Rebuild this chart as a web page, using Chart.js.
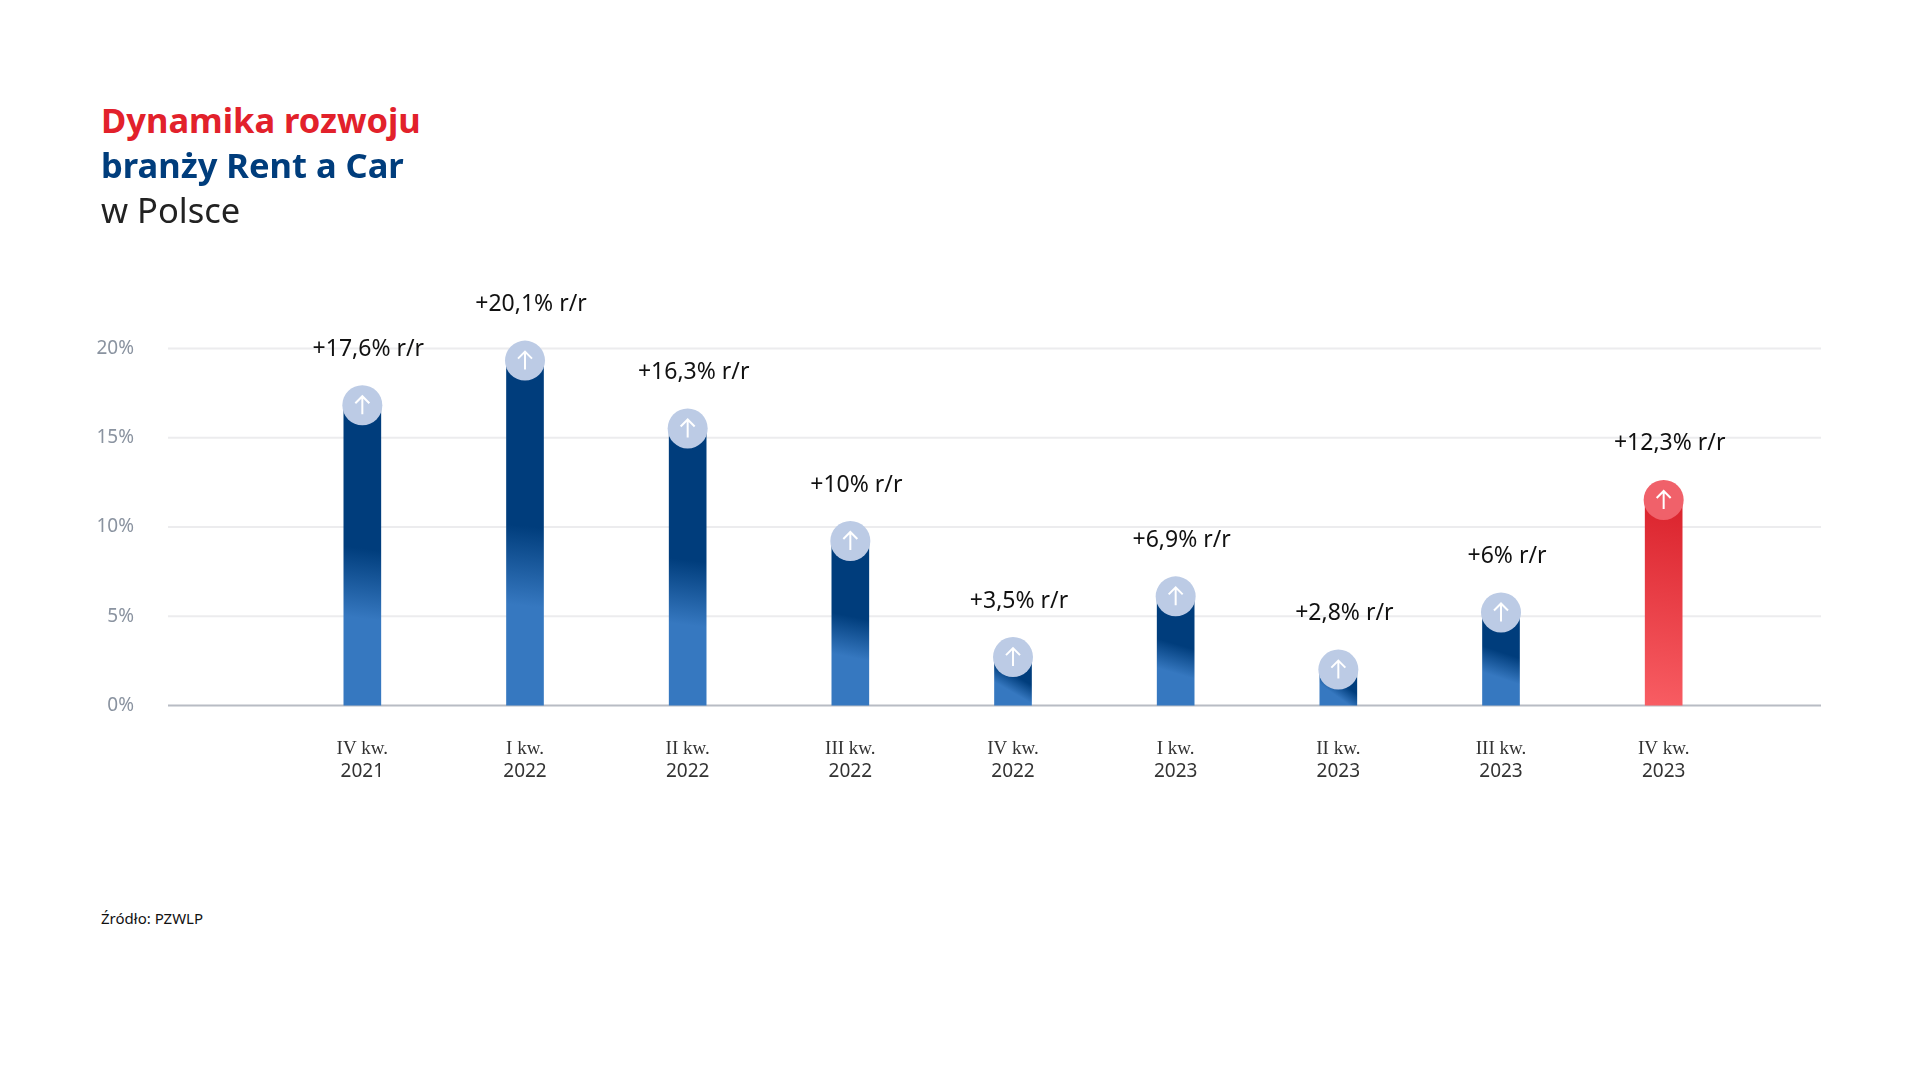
<!DOCTYPE html>
<html><head><meta charset="utf-8">
<script src="https://cdn.jsdelivr.net/npm/chart.js@4"></script>
<style>
body{margin:0;width:1920px;height:1080px;background:#fff;font-family:"Noto Sans",sans-serif;position:relative;overflow:hidden}
.t{position:absolute;left:101px;font-size:34.5px;line-height:45px}
#wrap{position:absolute;left:0;top:198px;width:1920px;height:658px}
.src{position:absolute;left:101px;top:908px;font-size:15px;color:#111}
</style></head><body>
<div id="wrap"><canvas id="c" width="1920" height="658" style="width:1920px;height:658px"></canvas></div>
<div class="t" style="top:97px;color:#e2212b;font-weight:700">Dynamika rozwoju</div>
<div class="t" style="top:142px;color:#003d7c;font-weight:700">branży Rent a Car</div>
<div class="t" style="top:187px;color:#222">w Polsce</div>
<div class="src">Źródło: PZWLP</div>
<script>
const quarters=["IV kw.","I kw.","II kw.","III kw.","IV kw.","I kw.","II kw.","III kw.","IV kw."];
const years=["2021","2022","2022","2022","2022","2023","2023","2023","2023"];
const values=[17.6,20.1,16.3,10,3.5,6.9,2.8,6,12.3];
const valueLabels=["+17,6% r/r","+20,1% r/r","+16,3% r/r","+10% r/r","+3,5% r/r","+6,9% r/r","+2,8% r/r","+6% r/r","+12,3% r/r"];
const yTicks=[0,5,10,15,20];
const highlight=8;
const GL=168,GR=1821;
const plug={id:'p',
 beforeDatasetsDraw(ch){const {ctx,scales:{y}}=ch;ctx.save();
  yTicks.forEach(v=>{const yy=y.getPixelForValue(v);ctx.strokeStyle=v===0?'#b8bcc4':'#ececee';ctx.lineWidth=2;ctx.beginPath();ctx.moveTo(GL,yy);ctx.lineTo(GR,yy);ctx.stroke();});
  ctx.restore();},
 afterDatasetsDraw(ch){const {ctx,scales:{x,y}}=ch;const meta=ch.getDatasetMeta(0);ctx.save();
  meta.data.forEach((b,i)=>{const cx=b.x,top=b.y,r=20,cy=top+14;
   ctx.fillStyle=i===highlight?'#f0616a':'#bccbe5';ctx.beginPath();ctx.arc(cx,cy,r,0,Math.PI*2);ctx.fill();
   ctx.strokeStyle='#fff';ctx.lineWidth=2;ctx.beginPath();ctx.moveTo(cx,cy+9);ctx.lineTo(cx,cy-8);ctx.moveTo(cx-7,cy-2);ctx.lineTo(cx,cy-9);ctx.lineTo(cx+7,cy-2);ctx.stroke();
   ctx.fillStyle='#111';ctx.font='23px "Noto Sans"';ctx.textAlign='center';ctx.textBaseline='middle';
   ctx.fillText(valueLabels[i],cx+6,top-42);
   ctx.fillStyle='#333';ctx.font='19px "Liberation Serif"';ctx.fillText(quarters[i],cx,y.bottom+43);
   ctx.font='19px "Noto Sans"';ctx.fillText(years[i],cx,y.bottom+66);
  });ctx.restore();}};
new Chart(document.getElementById('c'),{type:'bar',
 data:{labels:quarters,datasets:[{data:values,
  backgroundColor(c){const ch=c.chart;if(!ch.chartArea||!ch.scales.x)return '#003d7c';
   const xs=ch.scales.x,ys=ch.scales.y;const cx=xs.getPixelForValue(c.dataIndex);const top=ys.getPixelForValue(values[c.dataIndex]);const bot=ys.getPixelForValue(0);
   if(![cx,top,bot].every(isFinite))return '#003d7c';
   const g=ch.ctx.createLinearGradient(cx+18,top,cx-18,bot);
   if(c.dataIndex===highlight){g.addColorStop(0,'#d81e28');g.addColorStop(1,'#f85d63');return g;}
   g.addColorStop(0,'#003d7c');g.addColorStop(0.5,'#003d7c');g.addColorStop(0.72,'#3678c0');g.addColorStop(1,'#3678c0');return g;},
  borderRadius:{topLeft:18,topRight:18},borderSkipped:'bottom',barThickness:37}]},
 options:{responsive:false,maintainAspectRatio:false,animation:false,devicePixelRatio:1,
  layout:{padding:{left:0,right:175,top:47,bottom:0}},
  plugins:{legend:{display:false},tooltip:{enabled:false}},
  scales:{x:{grid:{display:false},border:{display:false},ticks:{display:false},afterFit(s){s.height=89;}},
   y:{min:0,max:20,afterBuildTicks(s){s.ticks=yTicks.map(v=>({value:v}));},
    grid:{display:false},border:{display:false},
    ticks:{callback:v=>v+'%',color:'#8a93a0',font:{size:19,family:'"Noto Sans"'},padding:139},
    afterFit(s){s.width=281;}}}},
 plugins:[plug]});
</script>
</body></html>
